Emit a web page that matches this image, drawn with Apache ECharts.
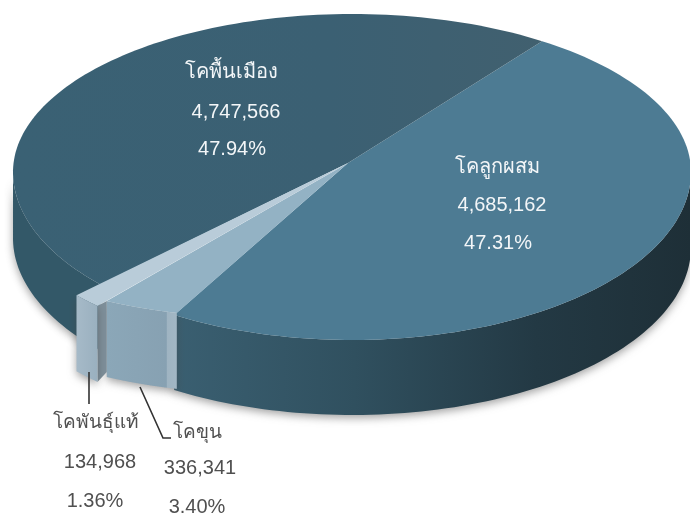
<!DOCTYPE html>
<html><head><meta charset="utf-8">
<style>html,body{margin:0;padding:0;background:#fff}#c{width:690px;height:514px}</style>
<script src="https://cdn.jsdelivr.net/npm/echarts@6/dist/echarts.min.js"></script>
</head><body><div id="c"></div>
<script>
const categories = ['โคลูกผสม','โคขุน','โคพันธุ์แท้','โคพื้นเมือง'];
const values = [4685162,336341,134968,4747566];
const percents = ['47.31%','3.40%','1.36%','47.94%'];

const START = 41, CX = 352, CY = 172, RX = 339, RY_BACK = 158, RY_FRONT = 168, AX = 348, AY = 163;
const total = values.reduce((a,b)=>a+b,0);
const pullStart = [1, 0.985, 1.095, 1];
const pullEnd = [1, 1.055, 1.095, 1];
const depth = [75, 76, 76, 66];
const labelX = [[497,502,498],[197,200,197],[96,100,95],[231,236,232]];
const labelY = [[167,205,243],[433,468,507],[423,462,501],[72,112,149]];
const nameSize = [20,19,19,20];
const topFill = [
  '#4d7b93','#93b2c4','#b9ccd9',
  {type:'linear',x:0,y:0,x2:1,y2:0,colorStops:[{offset:0,color:'#3a6174'},{offset:.6,color:'#3b6073'},{offset:1,color:'#41606f'}]}
];
const wallFill = [
  {type:'linear',x:0,y:0,x2:1,y2:0,colorStops:[{offset:0,color:'#3a5f71'},{offset:.35,color:'#30505f'},{offset:.7,color:'#233944'},{offset:1,color:'#1e2f37'}]},
  {type:'linear',x:0,y:0,x2:1,y2:0,colorStops:[{offset:0,color:'#8ba7b8'},{offset:.85,color:'#87a1b2'},{offset:.865,color:'#9fb4c2'},{offset:1,color:'#a3b7c4'}]},
  {type:'linear',x:0,y:0,x2:1,y2:0,colorStops:[{offset:0,color:'#a6bac8'},{offset:1,color:'#9ab0bf'}]},
  '#335868'
];
const textColor = ['#f3f6f8','#505050','#505050','#f3f6f8'];

const warp = a => a - 3.5 - 4.5*Math.cos(a*Math.PI/180);
function rim(deg, k){
  const t = deg*Math.PI/180, c = Math.cos(t);
  return [CX + RX*k*Math.sin(t), CY - (c>0?RY_BACK:RY_FRONT)*k*c];
}
function renderItem(params, api){
  const i = params.dataIndex;
  let before = 0;
  for (let j=0;j<i;j++) before += values[j];
  const a0 = START + before/total*360, a1 = a0 + api.value(0)/total*360;
  const top = [[AX,AY]], wall = [], wallBack = [];
  for (let n=0;n<=120;n++){
    const f = n/120, a = warp(a0+(a1-a0)*f);
    const k = pullStart[i]+(pullEnd[i]-pullStart[i])*f, p = rim(a,k);
    top.push(p);
    if (Math.cos(a*Math.PI/180) < 0){
      wall.push(p);
      wallBack.unshift([p[0], p[1]+depth[i]]);
    }
  }
  const big = i===0||i===3, children = [];
  children.push({type:'polygon',z2:big?1:(i===1?4:5),shape:{points:wall.concat(wallBack)},
    style:{fill:wallFill[i],shadowBlur:9,shadowColor:'rgba(70,70,70,.5)',shadowOffsetY:3}});
  children.push({type:'polygon',z2:big?2:(i===1?6:7),shape:{points:top},style:{fill:topFill[i]}});
  if (i===1) {
    const p = rim(warp(a1),pullEnd[1]), q = rim(warp(a1),pullEnd[2]);
    children.push({type:'polygon',z2:4,shape:{points:[p,q,[q[0],q[1]+depth[2]],[p[0],p[1]+depth[1]-5]]},style:{fill:'#7d8e99'}});
  }
  [categories[i], api.value(0).toLocaleString('en-US'), percents[i]].forEach((s,m)=>{
    children.push({type:'text',z2:20,style:{x:labelX[i][m],y:labelY[i][m],text:s,
      fill:textColor[i],font:(m===0?nameSize[i]:20)+'px "Liberation Sans","Noto Sans",sans-serif',
      align:'center',verticalAlign:'middle'}});
  });
  return {type:'group',children};
}
const chart = echarts.init(document.getElementById('c'),null,{renderer:'canvas'});
chart.setOption({
  animation:false,
  graphic:[
    {type:'polyline',z:10,shape:{points:[[89,372],[89,404]]},style:{stroke:'#333',lineWidth:1.6,fill:null}},
    {type:'polyline',z:10,shape:{points:[[140,387],[163,438],[171,438]]},style:{stroke:'#333',lineWidth:1.6,fill:null}}
  ],
  series:[{type:'custom',coordinateSystem:'none',renderItem,encode:{value:0},
    data:values.map((v,i)=>({name:categories[i],value:[v]}))}]
});
</script></body></html>
